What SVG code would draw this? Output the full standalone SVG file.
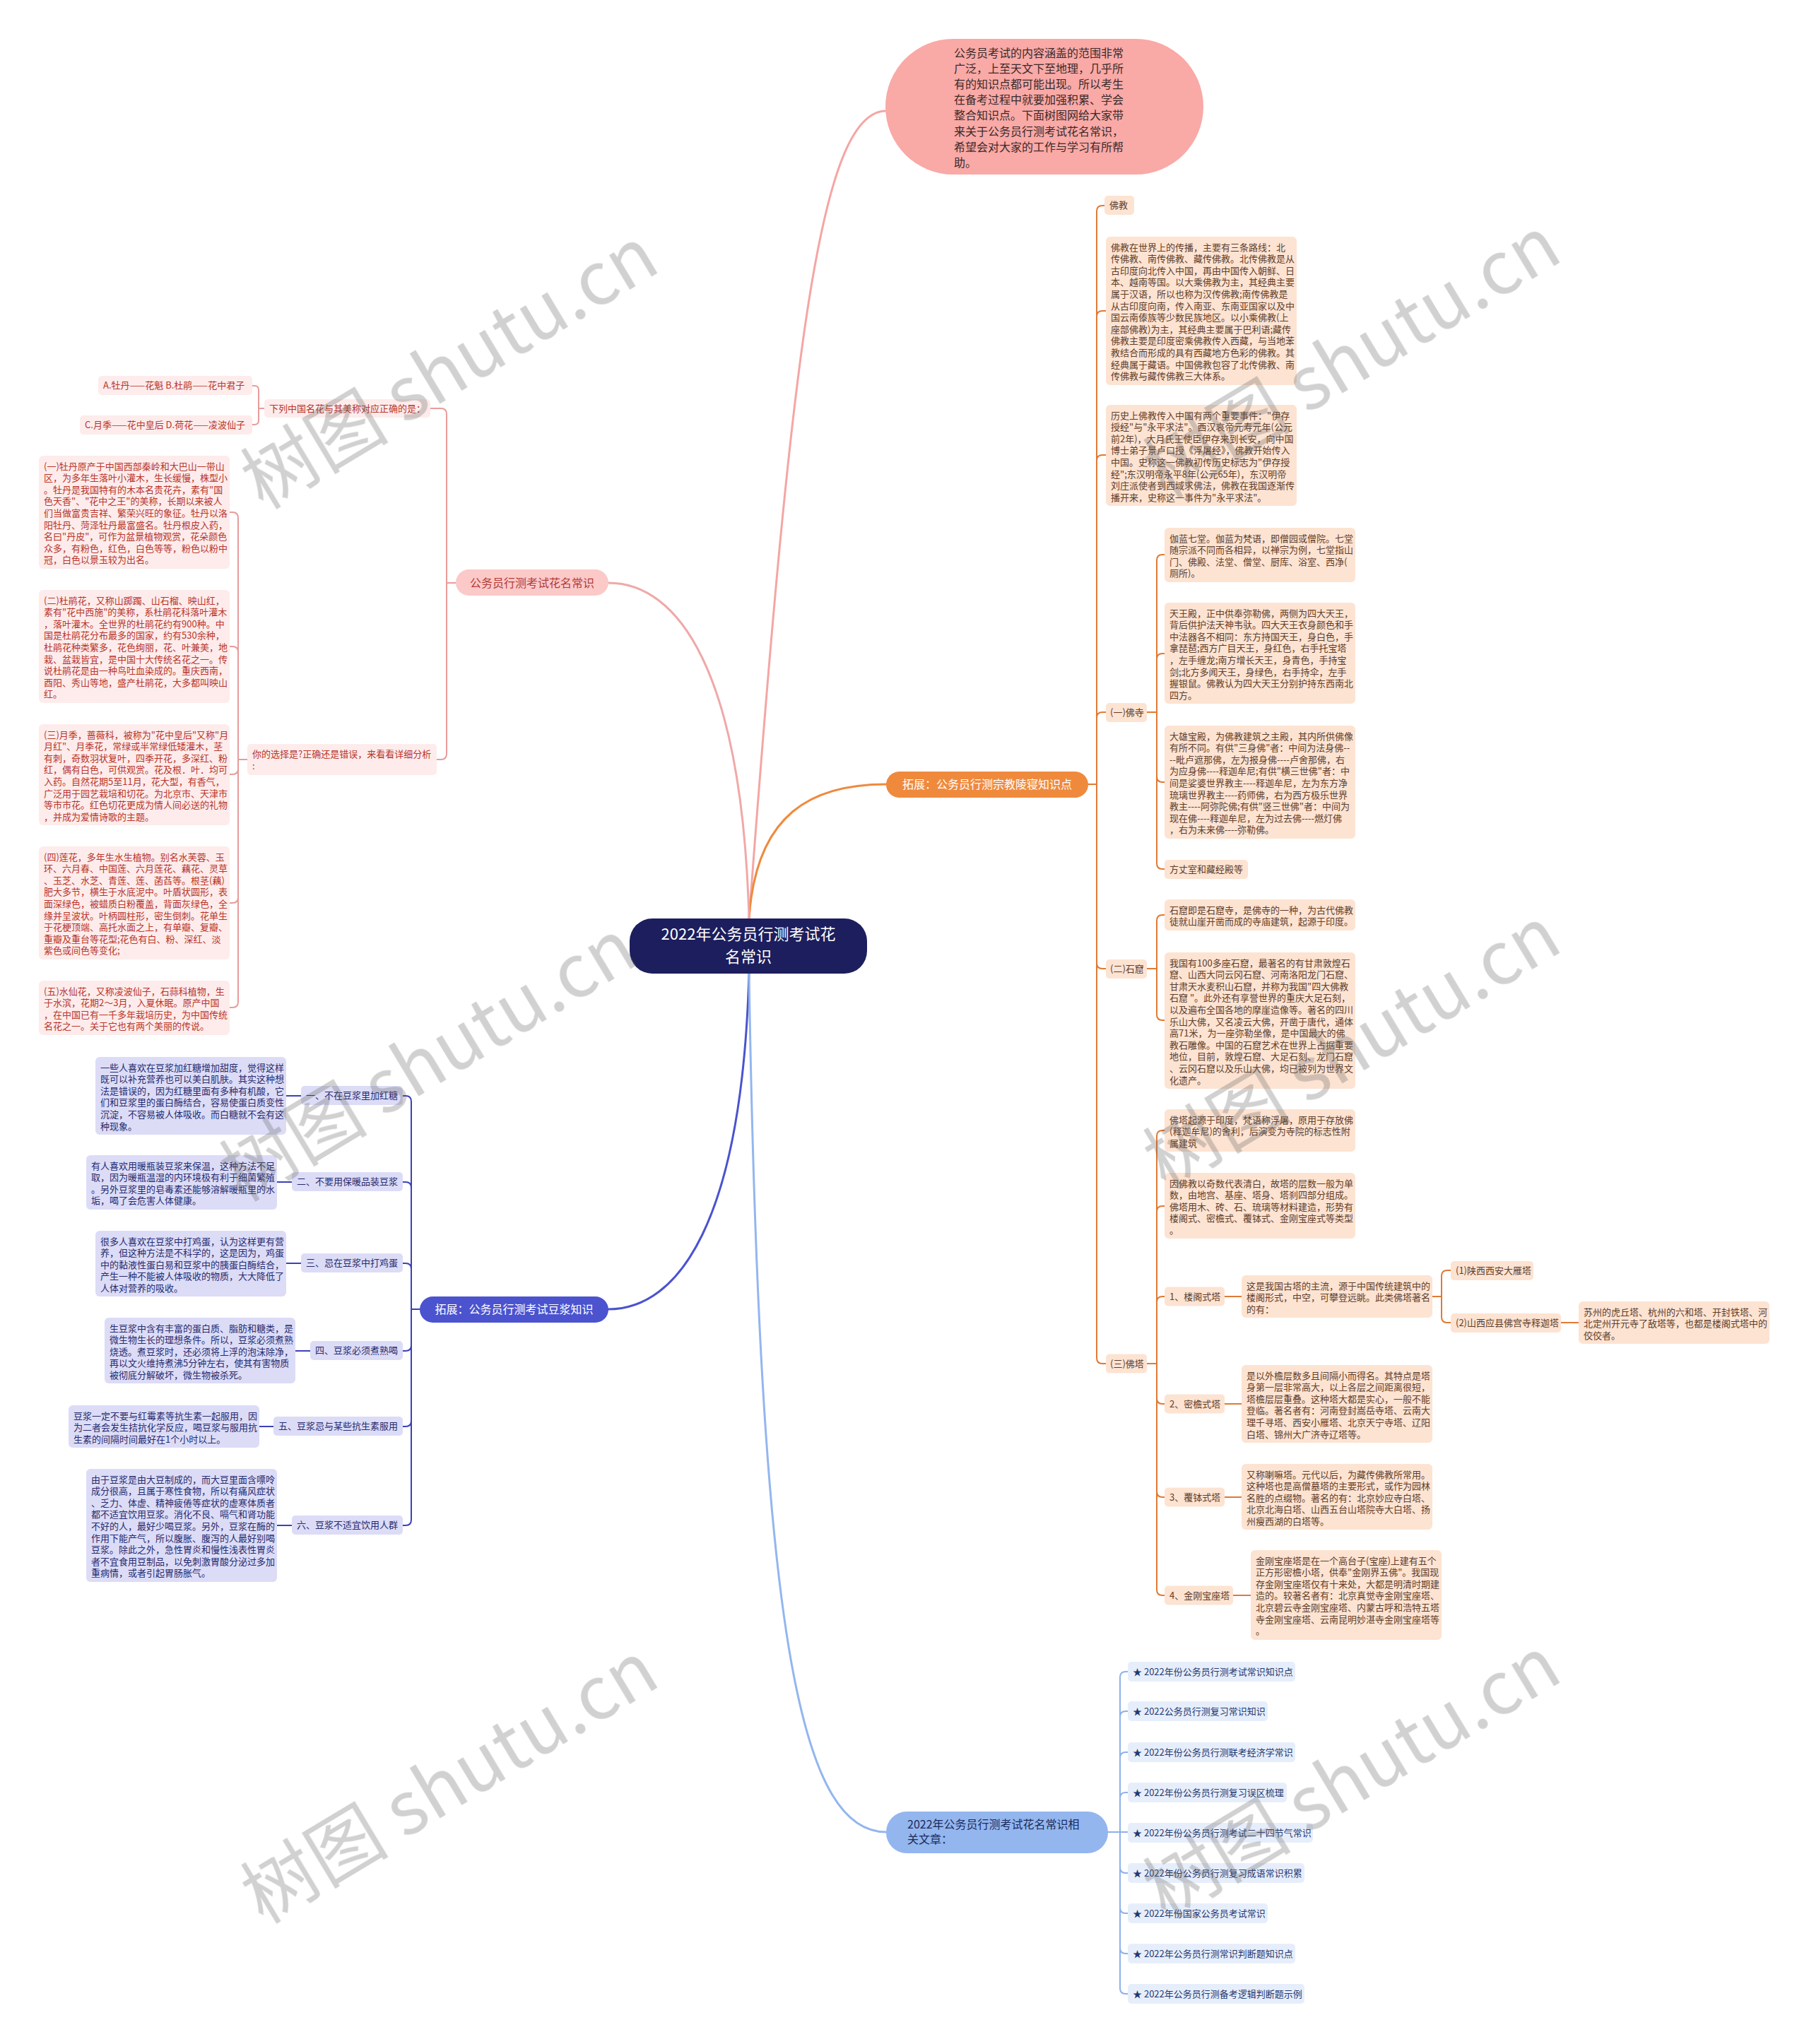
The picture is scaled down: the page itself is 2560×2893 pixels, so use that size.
<svg xmlns="http://www.w3.org/2000/svg" width="2560" height="2893" viewBox="0 0 2560 2893">
<style>
text{font-family:"Noto Sans CJK SC","Noto Sans",sans-serif;}
.s{font-size:13px}
.pk rect{fill:#fdeceb}.pk text{fill:#b8352c}
.or rect{fill:#fde3d2}.or text{fill:#5e3d2a}
.bl rect{fill:#dcdcf7}.bl text{fill:#262b6e}
.lb rect{fill:#e7eefb}.lb text{fill:#1f3a72}
.c path{fill:none;stroke-linecap:round;stroke-linejoin:round}
.cp{stroke:#e89c9b;stroke-width:2}
.co{stroke:#e07a35;stroke-width:2}
.cb{stroke:#3c41b8;stroke-width:2}
.cl{stroke:#8db1ea;stroke-width:2}
.wm{font-size:105px;fill:#666;opacity:.3}
</style>
<rect width="2560" height="2893" fill="#fff"/>
<g id="connectors" class="c">
<path d="M1060 1300 C1120 500 1160 157 1254 157" stroke="#f4a6a4" stroke-width="3"/>
<path d="M1060 1300 C1070 1150 1150 1110 1254 1110" stroke="#ee8a3f" stroke-width="3"/>
<path d="M1060 1300 C1050 950 960 825 861 825" stroke="#efa9a8" stroke-width="3"/>
<path d="M1060 1378 C1050 1730 960 1853 861 1853" stroke="#4b53cf" stroke-width="3"/>
<path d="M1060 1378 C1075 2300 1130 2593 1254 2593" stroke="#93b6ef" stroke-width="3"/>
<path class="cp" d="M645 825 H632 V586 Q632 578 624 578 H609"/>
<path class="cp" d="M645 825 H632 V1067 Q632 1075 624 1075 H618"/>
<path class="cp" d="M374 578 H366 V552 Q366 546 360 546 H357"/>
<path class="cp" d="M374 578 H366 V595 Q366 601 360 601 H357"/>
<path class="cp" d="M350 1075 H337 V733 Q337 725 329 725 H325"/>
<path class="cp" d="M350 1075 H337 V923 Q337 915 329 915 H325"/>
<path class="cp" d="M350 1075 H337 V1088 Q337 1096 329 1096 H325"/>
<path class="cp" d="M350 1075 H337 V1270 Q337 1278 329 1278 H325"/>
<path class="cp" d="M350 1075 H337 V1418 Q337 1426 329 1426 H325"/>
<path class="co" d="M1540 1110 H1552 V299 Q1552 291 1560 291 H1563"/>
<path class="co" d="M1540 1110 H1552 V448 Q1552 440 1560 440 H1565"/>
<path class="co" d="M1540 1110 H1552 V652 Q1552 644 1560 644 H1565"/>
<path class="co" d="M1540 1110 H1552 V1016 Q1552 1008 1560 1008 H1565"/>
<path class="co" d="M1540 1110 H1552 V1363 Q1552 1371 1560 1371 H1565"/>
<path class="co" d="M1540 1110 H1552 V1922 Q1552 1930 1560 1930 H1565"/>
<path class="co" d="M1623 1008 H1637 V793 Q1637 785 1645 785 H1648"/>
<path class="co" d="M1623 1008 H1637 V933 Q1637 925 1645 925 H1648"/>
<path class="co" d="M1623 1008 H1637 V1099 Q1637 1107 1645 1107 H1648"/>
<path class="co" d="M1623 1008 H1637 V1222 Q1637 1230 1645 1230 H1648"/>
<path class="co" d="M1623 1371 H1637 V1303 Q1637 1295 1645 1295 H1648"/>
<path class="co" d="M1623 1371 H1637 V1436 Q1637 1444 1645 1444 H1648"/>
<path class="co" d="M1623 1930 H1637 V1608 Q1637 1600 1645 1600 H1648"/>
<path class="co" d="M1623 1930 H1637 V1715 Q1637 1707 1645 1707 H1648"/>
<path class="co" d="M1623 1930 H1637 V1843 Q1637 1835 1645 1835 H1648"/>
<path class="co" d="M1623 1930 H1637 V1979 Q1637 1987 1645 1987 H1648"/>
<path class="co" d="M1623 1930 H1637 V2111 Q1637 2119 1645 2119 H1648"/>
<path class="co" d="M1623 1930 H1637 V2250 Q1637 2258 1645 2258 H1648"/>
<path class="co" d="M1733 1835 H1757"/>
<path class="co" d="M2027 1835 H2040 V1806 Q2040 1798 2048 1798 H2053"/>
<path class="co" d="M2027 1835 H2040 V1864 Q2040 1872 2048 1872 H2053"/>
<path class="co" d="M2209 1872 H2234"/>
<path class="co" d="M1733 1987 H1757"/>
<path class="co" d="M1733 2119 H1757"/>
<path class="co" d="M1745 2258 H1770"/>
<path class="cb" d="M594 1853 H582 V1559 Q582 1551 574 1551 H570"/>
<path class="cb" d="M594 1853 H582 V1681 Q582 1673 574 1673 H570"/>
<path class="cb" d="M594 1853 H582 V1796 Q582 1788 574 1788 H570"/>
<path class="cb" d="M594 1853 H582 V1904 Q582 1912 574 1912 H570"/>
<path class="cb" d="M594 1853 H582 V2011 Q582 2019 574 2019 H570"/>
<path class="cb" d="M594 1853 H582 V2151 Q582 2159 574 2159 H570"/>
<path class="cb" d="M426 1551 H405"/>
<path class="cb" d="M413 1673 H392"/>
<path class="cb" d="M426 1788 H405"/>
<path class="cb" d="M439 1912 H418"/>
<path class="cb" d="M387 2019 H366"/>
<path class="cb" d="M413 2159 H392"/>
<path class="cl" d="M1568 2593 H1585 V2374 Q1585 2366 1593 2366 H1596"/>
<path class="cl" d="M1568 2593 H1585 V2430 Q1585 2422 1593 2422 H1596"/>
<path class="cl" d="M1568 2593 H1585 V2488 Q1585 2480 1593 2480 H1596"/>
<path class="cl" d="M1568 2593 H1585 V2545 Q1585 2537 1593 2537 H1596"/>
<path class="cl" d="M1568 2593 H1596"/>
<path class="cl" d="M1568 2593 H1585 V2643 Q1585 2651 1593 2651 H1596"/>
<path class="cl" d="M1568 2593 H1585 V2700 Q1585 2708 1593 2708 H1596"/>
<path class="cl" d="M1568 2593 H1585 V2757 Q1585 2765 1593 2765 H1596"/>
<path class="cl" d="M1568 2593 H1585 V2814 Q1585 2822 1593 2822 H1596"/>
</g>

<g id="center">
<rect x="891" y="1300" width="336" height="78" rx="32" fill="#1c1e5d"/>
<text x="1059" y="1330" font-size="22" fill="#fff" text-anchor="middle">2022年公务员行测考试花</text>
<text x="1059" y="1362" font-size="22" fill="#fff" text-anchor="middle">名常识</text>
</g>

<g id="intro">
<rect x="1253" y="55" width="450" height="192" rx="96" fill="#f9a9a6"/>
<text x="1350" y="81" font-size="16" fill="#3a2a2a"><tspan x="1350">公务员考试的内容涵盖的范围非常</tspan><tspan x="1350" dy="22.1">广泛，上至天文下至地理，几乎所</tspan><tspan x="1350" dy="22.1">有的知识点都可能出现。所以考生</tspan><tspan x="1350" dy="22.1">在备考过程中就要加强积累、学会</tspan><tspan x="1350" dy="22.1">整合知识点。下面树图网给大家带</tspan><tspan x="1350" dy="22.1">来关于公务员行测考试花名常识，</tspan><tspan x="1350" dy="22.1">希望会对大家的工作与学习有所帮</tspan><tspan x="1350" dy="22.1">助。</tspan></text>
</g>

<g id="branch-flower">
<rect x="645" y="806" width="216" height="37" rx="18.5" fill="#fbc9c8"/>
<text x="753" y="830.5" font-size="16" fill="#b23a38" text-anchor="middle">公务员行测考试花名常识</text>
</g>
<g id="branch-religion">
<rect x="1254" y="1092" width="286" height="37" rx="18.5" fill="#ef8a3d"/>
<text x="1397" y="1116" font-size="16" fill="#fff" text-anchor="middle">拓展：公务员行测宗教陵寝知识点</text>
</g>
<g id="branch-soy">
<rect x="594" y="1835" width="267" height="37" rx="18.5" fill="#4b53cf"/>
<text x="727.5" y="1859" font-size="16" fill="#fff" text-anchor="middle">拓展：公务员行测考试豆浆知识</text>
</g>
<g id="branch-related">
<rect x="1254" y="2564" width="314" height="59" rx="29" fill="#93b6ef"/>
<text x="1284" y="2588" font-size="16" fill="#1c2b5a"><tspan x="1284">2022年公务员行测考试花名常识相</tspan><tspan x="1284" dy="21">关文章：</tspan></text>
</g>

<g class="pk s">
<g id="q"><rect x="374" y="565" width="235" height="26" rx="5"/><text x="381" y="583">下列中国名花与其美称对应正确的是：</text></g>
<g id="qa"><rect x="139" y="532" width="218" height="27" rx="5"/><text x="146" y="550">A.牡丹——花魁 B.杜鹃——花中君子</text></g>
<g id="qc"><rect x="113" y="588" width="244" height="27" rx="5"/><text x="120" y="606">C.月季——花中皇后 D.荷花——凌波仙子</text></g>
<g id="ans"><rect x="350" y="1053" width="268" height="44" rx="5"/><text x="357" y="1072"><tspan x="357">你的选择是?正确还是错误，来看看详细分析</tspan><tspan x="357" dy="16.6">:</tspan></text></g>
<g id="p1"><rect x="55" y="645" width="270" height="160" rx="6"/><text x="62" y="664.5"><tspan x="62">(一)牡丹原产于中国西部秦岭和大巴山一带山</tspan><tspan x="62" dy="16.6">区，为多年生落叶小灌木，生长缓慢，株型小</tspan><tspan x="62" dy="16.6">。牡丹是我国特有的木本名贵花卉，素有"国</tspan><tspan x="62" dy="16.6">色天香"、"花中之王"的美称，长期以来被人</tspan><tspan x="62" dy="16.6">们当做富贵吉祥、繁荣兴旺的象征。牡丹以洛</tspan><tspan x="62" dy="16.6">阳牡丹、菏泽牡丹最富盛名。牡丹根皮入药，</tspan><tspan x="62" dy="16.6">名曰"丹皮"，可作为盆景植物观赏，花朵颜色</tspan><tspan x="62" dy="16.6">众多，有粉色，红色，白色等等，粉色以粉中</tspan><tspan x="62" dy="16.6">冠，白色以景玉较为出名。</tspan></text></g>
<g id="p2"><rect x="55" y="835" width="270" height="160" rx="6"/><text x="62" y="854.5"><tspan x="62">(二)杜鹃花，又称山踯躅、山石榴、映山红，</tspan><tspan x="62" dy="16.6">素有"花中西施"的美称，系杜鹃花科落叶灌木</tspan><tspan x="62" dy="16.6">，落叶灌木。全世界的杜鹃花约有900种。中</tspan><tspan x="62" dy="16.6">国是杜鹃花分布最多的国家，约有530余种，</tspan><tspan x="62" dy="16.6">杜鹃花种类繁多，花色绚丽，花、叶兼美，地</tspan><tspan x="62" dy="16.6">栽、盆栽皆宜，是中国十大传统名花之一。传</tspan><tspan x="62" dy="16.6">说杜鹃花是由一种鸟吐血染成的。重庆西南，</tspan><tspan x="62" dy="16.6">酉阳、秀山等地，盛产杜鹃花，大多都叫映山</tspan><tspan x="62" dy="16.6">红。</tspan></text></g>
<g id="p3"><rect x="55" y="1025" width="270" height="143" rx="6"/><text x="62" y="1044.5"><tspan x="62">(三)月季，蔷薇科，被称为"花中皇后"又称"月</tspan><tspan x="62" dy="16.6">月红"、月季花，常绿或半常绿低矮灌木，茎</tspan><tspan x="62" dy="16.6">有刺，奇数羽状复叶，四季开花，多深红、粉</tspan><tspan x="62" dy="16.6">红，偶有白色，可供观赏。花及根．叶．均可</tspan><tspan x="62" dy="16.6">入药。自然花期5至11月，花大型，有香气，</tspan><tspan x="62" dy="16.6">广泛用于园艺栽培和切花。为北京市、天津市</tspan><tspan x="62" dy="16.6">等市市花。红色切花更成为情人间必送的礼物</tspan><tspan x="62" dy="16.6">，并成为爱情诗歌的主题。</tspan></text></g>
<g id="p4"><rect x="55" y="1198" width="270" height="160" rx="6"/><text x="62" y="1217.5"><tspan x="62">(四)莲花，多年生水生植物。别名水芙蓉、玉</tspan><tspan x="62" dy="16.6">环、六月春、中国莲、六月莲花、藕花、灵草</tspan><tspan x="62" dy="16.6">、玉芝、水芝、青莲、莲、菡萏等。根茎(藕)</tspan><tspan x="62" dy="16.6">肥大多节，横生于水底泥中。叶盾状圆形，表</tspan><tspan x="62" dy="16.6">面深绿色，被蜡质白粉覆盖，背面灰绿色，全</tspan><tspan x="62" dy="16.6">缘并呈波状。叶柄圆柱形，密生倒刺。花单生</tspan><tspan x="62" dy="16.6">于花梗顶端、高托水面之上，有单瓣、复瓣、</tspan><tspan x="62" dy="16.6">重瓣及重台等花型;花色有白、粉、深红、淡</tspan><tspan x="62" dy="16.6">紫色或间色等变化;</tspan></text></g>
<g id="p5"><rect x="55" y="1388" width="270" height="77" rx="6"/><text x="62" y="1407.5"><tspan x="62">(五)水仙花，又称凌波仙子，石蒜科植物，生</tspan><tspan x="62" dy="16.6">于水滨，花期2～3月，入夏休眠。原产中国</tspan><tspan x="62" dy="16.6">，在中国已有一千多年栽培历史，为中国传统</tspan><tspan x="62" dy="16.6">名花之一。关于它也有两个美丽的传说。</tspan></text></g>
</g>

<g class="or s">
<g id="fj"><rect x="1563" y="277" width="42" height="27" rx="5"/><text x="1570" y="295">佛教</text></g>
<g id="o1"><rect x="1565" y="335" width="270" height="210" rx="6"/><text x="1572" y="354.5"><tspan x="1572">佛教在世界上的传播，主要有三条路线：北</tspan><tspan x="1572" dy="16.6">传佛教、南传佛教、藏传佛教。北传佛教是从</tspan><tspan x="1572" dy="16.6">古印度向北传入中国，再由中国传入朝鲜、日</tspan><tspan x="1572" dy="16.6">本、越南等国。以大乘佛教为主，其经典主要</tspan><tspan x="1572" dy="16.6">属于汉语，所以也称为汉传佛教;南传佛教是</tspan><tspan x="1572" dy="16.6">从古印度向南，传入南亚、东南亚国家以及中</tspan><tspan x="1572" dy="16.6">国云南傣族等少数民族地区。以小乘佛教(上</tspan><tspan x="1572" dy="16.6">座部佛教)为主，其经典主要属于巴利语;藏传</tspan><tspan x="1572" dy="16.6">佛教主要是印度密乘佛教传入西藏，与当地苯</tspan><tspan x="1572" dy="16.6">教结合而形成的具有西藏地方色彩的佛教。其</tspan><tspan x="1572" dy="16.6">经典属于藏语。中国佛教包容了北传佛教、南</tspan><tspan x="1572" dy="16.6">传佛教与藏传佛教三大体系。</tspan></text></g>
<g id="o2"><rect x="1565" y="573" width="270" height="143" rx="6"/><text x="1572" y="592.5"><tspan x="1572">历史上佛教传入中国有两个重要事件："伊存</tspan><tspan x="1572" dy="16.6">授经"与"永平求法"。西汉哀帝元寿元年(公元</tspan><tspan x="1572" dy="16.6">前2年)，大月氏王使臣伊存来到长安，向中国</tspan><tspan x="1572" dy="16.6">博士弟子景卢口授《浮屠经》，佛教开始传入</tspan><tspan x="1572" dy="16.6">中国。史称这一佛教初传历史标志为"伊存授</tspan><tspan x="1572" dy="16.6">经";东汉明帝永平8年(公元65年)，东汉明帝</tspan><tspan x="1572" dy="16.6">刘庄派使者到西域求佛法，佛教在我国逐渐传</tspan><tspan x="1572" dy="16.6">播开来，史称这一事件为"永平求法"。</tspan></text></g>
<g id="fs"><rect x="1565" y="995" width="58" height="27" rx="5"/><text x="1571" y="1013">(一)佛寺</text></g>
<g id="fa"><rect x="1648" y="747" width="270" height="77" rx="6"/><text x="1655" y="766.5"><tspan x="1655">伽蓝七堂。伽蓝为梵语，即僧园或僧院。七堂</tspan><tspan x="1655" dy="16.6">随宗派不同而各相异，以禅宗为例，七堂指山</tspan><tspan x="1655" dy="16.6">门、佛殿、法堂、僧堂、厨库、浴室、西净(</tspan><tspan x="1655" dy="16.6">厕所)。</tspan></text></g>
<g id="fb"><rect x="1648" y="853" width="270" height="143" rx="6"/><text x="1655" y="872.5"><tspan x="1655">天王殿，正中供奉弥勒佛，两侧为四大天王，</tspan><tspan x="1655" dy="16.6">背后供护法天神韦驮。四大天王衣身颜色和手</tspan><tspan x="1655" dy="16.6">中法器各不相同：东方持国天王，身白色，手</tspan><tspan x="1655" dy="16.6">拿琵琶;西方广目天王，身红色，右手托宝塔</tspan><tspan x="1655" dy="16.6">，左手缠龙;南方增长天王，身青色，手持宝</tspan><tspan x="1655" dy="16.6">剑;北方多闻天王，身绿色，右手持伞，左手</tspan><tspan x="1655" dy="16.6">握银鼠。佛教认为四大天王分别护持东西南北</tspan><tspan x="1655" dy="16.6">四方。</tspan></text></g>
<g id="fc"><rect x="1648" y="1027" width="270" height="160" rx="6"/><text x="1655" y="1046.5"><tspan x="1655">大雄宝殿，为佛教建筑之主殿，其内所供佛像</tspan><tspan x="1655" dy="16.6">有所不同。有供"三身佛"者：中间为法身佛--</tspan><tspan x="1655" dy="16.6">--毗卢遮那佛，左为报身佛----卢舍那佛，右</tspan><tspan x="1655" dy="16.6">为应身佛----释迦牟尼;有供"横三世佛"者：中</tspan><tspan x="1655" dy="16.6">间是娑婆世界教主----释迦牟尼，左为东方净</tspan><tspan x="1655" dy="16.6">琉璃世界教主----药师佛，右为西方极乐世界</tspan><tspan x="1655" dy="16.6">教主----阿弥陀佛;有供"竖三世佛"者：中间为</tspan><tspan x="1655" dy="16.6">现在佛----释迦牟尼，左为过去佛----燃灯佛</tspan><tspan x="1655" dy="16.6">，右为未来佛----弥勒佛。</tspan></text></g>
<g id="fd"><rect x="1648" y="1217" width="118" height="27" rx="5"/><text x="1655" y="1235">方丈室和藏经殿等</text></g>
<g id="sk"><rect x="1565" y="1358" width="58" height="27" rx="5"/><text x="1571" y="1376">(二)石窟</text></g>
<g id="sa"><rect x="1648" y="1273" width="270" height="44" rx="6"/><text x="1655" y="1292.5"><tspan x="1655">石窟即是石窟寺，是佛寺的一种，为古代佛教</tspan><tspan x="1655" dy="16.6">徒就山崖开凿而成的寺庙建筑，起源于印度。</tspan></text></g>
<g id="sb"><rect x="1648" y="1348" width="270" height="193" rx="6"/><text x="1655" y="1367.5"><tspan x="1655">我国有100多座石窟，最著名的有甘肃敦煌石</tspan><tspan x="1655" dy="16.6">窟、山西大同云冈石窟、河南洛阳龙门石窟、</tspan><tspan x="1655" dy="16.6">甘肃天水麦积山石窟，并称为我国"四大佛教</tspan><tspan x="1655" dy="16.6">石窟 "。此外还有享誉世界的重庆大足石刻，</tspan><tspan x="1655" dy="16.6">以及遍布全国各地的摩崖造像等。著名的四川</tspan><tspan x="1655" dy="16.6">乐山大佛，又名凌云大佛，开凿于唐代，通体</tspan><tspan x="1655" dy="16.6">高71米，为一座弥勒坐像，是中国最大的佛</tspan><tspan x="1655" dy="16.6">教石雕像。中国的石窟艺术在世界上占据重要</tspan><tspan x="1655" dy="16.6">地位，目前，敦煌石窟、大足石刻、龙门石窟</tspan><tspan x="1655" dy="16.6">、云冈石窟以及乐山大佛，均已被列为世界文</tspan><tspan x="1655" dy="16.6">化遗产。</tspan></text></g>
<g id="ft"><rect x="1565" y="1916.5" width="58" height="27" rx="5"/><text x="1571" y="1934.5">(三)佛塔</text></g>
<g id="ta"><rect x="1648" y="1570" width="270" height="60" rx="6"/><text x="1655" y="1589.5"><tspan x="1655">佛塔起源于印度，梵语称浮屠，原用于存放佛</tspan><tspan x="1655" dy="16.6">(释迦牟尼)的舍利，后演变为寺院的标志性附</tspan><tspan x="1655" dy="16.6">属建筑</tspan></text></g>
<g id="tb"><rect x="1648" y="1660" width="270" height="93" rx="6"/><text x="1655" y="1679.5"><tspan x="1655">因佛教以奇数代表清白，故塔的层数一般为单</tspan><tspan x="1655" dy="16.6">数，由地宫、基座、塔身、塔刹四部分组成。</tspan><tspan x="1655" dy="16.6">佛塔用木、砖、石、琉璃等材料建造，形势有</tspan><tspan x="1655" dy="16.6">楼阁式、密檐式、覆钵式、金刚宝座式等类型</tspan><tspan x="1655" dy="16.6">。</tspan></text></g>
<g id="t1"><rect x="1648" y="1821.5" width="85" height="27" rx="5"/><text x="1655" y="1839.5">1、楼阁式塔</text></g>
<g id="t2"><rect x="1648" y="1973.5" width="85" height="27" rx="5"/><text x="1655" y="1991.5">2、密檐式塔</text></g>
<g id="t3"><rect x="1648" y="2105.5" width="85" height="27" rx="5"/><text x="1655" y="2123.5">3、覆钵式塔</text></g>
<g id="t4"><rect x="1648" y="2244.5" width="97" height="27" rx="5"/><text x="1655" y="2262.5">4、金刚宝座塔</text></g>
<g id="l1"><rect x="1757" y="1805" width="270" height="60" rx="6"/><text x="1764" y="1824.5"><tspan x="1764">这是我国古塔的主流，源于中国传统建筑中的</tspan><tspan x="1764" dy="16.6">楼阁形式，中空，可攀登远眺。此类佛塔著名</tspan><tspan x="1764" dy="16.6">的有：</tspan></text></g>
<g id="l1a"><rect x="2053" y="1785" width="117" height="27" rx="5"/><text x="2060" y="1803">(1)陕西西安大雁塔</text></g>
<g id="l1b"><rect x="2053" y="1859" width="156" height="27" rx="5"/><text x="2060" y="1877">(2)山西应县佛宫寺释迦塔</text></g>
<g id="l2"><rect x="2234" y="1842" width="270" height="60" rx="6"/><text x="2241" y="1861.5"><tspan x="2241">苏州的虎丘塔、杭州的六和塔、开封铁塔、河</tspan><tspan x="2241" dy="16.6">北定州开元寺了敌塔等，也都是楼阁式塔中的</tspan><tspan x="2241" dy="16.6">佼佼者。</tspan></text></g>
<g id="m"><rect x="1757" y="1932" width="270" height="110" rx="6"/><text x="1764" y="1951.5"><tspan x="1764">是以外檐层数多且间隔小而得名。其特点是塔</tspan><tspan x="1764" dy="16.6">身第一层非常高大，以上各层之间距离很短，</tspan><tspan x="1764" dy="16.6">塔檐层层重叠。这种塔大都是实心，一般不能</tspan><tspan x="1764" dy="16.6">登临。著名者有：河南登封嵩岳寺塔、云南大</tspan><tspan x="1764" dy="16.6">理千寻塔、西安小雁塔、北京天宁寺塔、辽阳</tspan><tspan x="1764" dy="16.6">白塔、锦州大广济寺辽塔等。</tspan></text></g>
<g id="fu"><rect x="1757" y="2072" width="270" height="93" rx="6"/><text x="1764" y="2091.5"><tspan x="1764">又称喇嘛塔。元代以后，为藏传佛教所常用。</tspan><tspan x="1764" dy="16.6">这种塔也是高僧墓塔的主要形式，或作为园林</tspan><tspan x="1764" dy="16.6">名胜的点缀物。著名的有：北京妙应寺白塔、</tspan><tspan x="1764" dy="16.6">北京北海白塔、山西五台山塔院寺大白塔、扬</tspan><tspan x="1764" dy="16.6">州瘦西湖的白塔等。</tspan></text></g>
<g id="jg"><rect x="1770" y="2194" width="270" height="127" rx="6"/><text x="1777" y="2213.5"><tspan x="1777">金刚宝座塔是在一个高台子(宝座)上建有五个</tspan><tspan x="1777" dy="16.6">正方形密檐小塔，供奉"金刚界五佛"。我国现</tspan><tspan x="1777" dy="16.6">存金刚宝座塔仅有十来处，大都是明清时期建</tspan><tspan x="1777" dy="16.6">造的。较著名者有：北京真觉寺金刚宝座塔、</tspan><tspan x="1777" dy="16.6">北京碧云寺金刚宝座塔、内蒙古呼和浩特五塔</tspan><tspan x="1777" dy="16.6">寺金刚宝座塔、云南昆明妙湛寺金刚宝座塔等</tspan><tspan x="1777" dy="16.6">。</tspan></text></g>
</g>

<g class="bl s">
<g id="b1l"><rect x="426" y="1537" width="144" height="27" rx="5"/><text x="433" y="1555">一、不在豆浆里加红糖</text></g>
<g id="b2l"><rect x="413" y="1659" width="157" height="27" rx="5"/><text x="420" y="1677">二、不要用保暖品装豆浆</text></g>
<g id="b3l"><rect x="426" y="1774" width="144" height="27" rx="5"/><text x="433" y="1792">三、忌在豆浆中打鸡蛋</text></g>
<g id="b4l"><rect x="439" y="1898" width="131" height="27" rx="5"/><text x="446" y="1916">四、豆浆必须煮熟喝</text></g>
<g id="b5l"><rect x="387" y="2005" width="183" height="27" rx="5"/><text x="394" y="2023">五、豆浆忌与某些抗生素服用</text></g>
<g id="b6l"><rect x="413" y="2145" width="157" height="27" rx="5"/><text x="420" y="2163">六、豆浆不适宜饮用人群</text></g>
<g id="b1"><rect x="135" y="1496" width="270" height="110" rx="6"/><text x="142" y="1515.5"><tspan x="142">一些人喜欢在豆浆加红糖增加甜度，觉得这样</tspan><tspan x="142" dy="16.6">既可以补充营养也可以美白肌肤。其实这种想</tspan><tspan x="142" dy="16.6">法是错误的，因为红糖里面有多种有机酸，它</tspan><tspan x="142" dy="16.6">们和豆浆里的蛋白酶结合，容易使蛋白质变性</tspan><tspan x="142" dy="16.6">沉淀，不容易被人体吸收。而白糖就不会有这</tspan><tspan x="142" dy="16.6">种现象。</tspan></text></g>
<g id="b2"><rect x="122" y="1635" width="270" height="77" rx="6"/><text x="129" y="1654.5"><tspan x="129">有人喜欢用暖瓶装豆浆来保温，这种方法不足</tspan><tspan x="129" dy="16.6">取，因为暖瓶温湿的内环境极有利于细菌繁殖</tspan><tspan x="129" dy="16.6">。另外豆浆里的皂毒素还能够溶解暖瓶里的水</tspan><tspan x="129" dy="16.6">垢，喝了会危害人体健康。</tspan></text></g>
<g id="b3"><rect x="135" y="1742" width="270" height="93" rx="6"/><text x="142" y="1761.5"><tspan x="142">很多人喜欢在豆浆中打鸡蛋，认为这样更有营</tspan><tspan x="142" dy="16.6">养，但这种方法是不科学的，这是因为，鸡蛋</tspan><tspan x="142" dy="16.6">中的黏液性蛋白易和豆浆中的胰蛋白酶结合，</tspan><tspan x="142" dy="16.6">产生一种不能被人体吸收的物质，大大降低了</tspan><tspan x="142" dy="16.6">人体对营养的吸收。</tspan></text></g>
<g id="b4"><rect x="148" y="1865" width="270" height="93" rx="6"/><text x="155" y="1884.5"><tspan x="155">生豆浆中含有丰富的蛋白质、脂肪和糖类，是</tspan><tspan x="155" dy="16.6">微生物生长的理想条件。所以，豆浆必须煮熟</tspan><tspan x="155" dy="16.6">烧透。煮豆浆时，还必须将上浮的泡沫除净，</tspan><tspan x="155" dy="16.6">再以文火维持煮沸5分钟左右，使其有害物质</tspan><tspan x="155" dy="16.6">被彻底分解破坏，微生物被杀死。</tspan></text></g>
<g id="b5"><rect x="97" y="1989" width="270" height="60" rx="6"/><text x="104" y="2008.5"><tspan x="104">豆浆一定不要与红霉素等抗生素一起服用，因</tspan><tspan x="104" dy="16.6">为二者会发生拮抗化学反应，喝豆浆与服用抗</tspan><tspan x="104" dy="16.6">生素的间隔时间最好在1个小时以上。</tspan></text></g>
<g id="b6"><rect x="122" y="2079" width="270" height="160" rx="6"/><text x="129" y="2098.5"><tspan x="129">由于豆浆是由大豆制成的，而大豆里面含嘌呤</tspan><tspan x="129" dy="16.6">成分很高，且属于寒性食物，所以有痛风症状</tspan><tspan x="129" dy="16.6">、乏力、体虚、精神疲倦等症状的虚寒体质者</tspan><tspan x="129" dy="16.6">都不适宜饮用豆浆。消化不良、嗝气和肾功能</tspan><tspan x="129" dy="16.6">不好的人，最好少喝豆浆。另外，豆浆在酶的</tspan><tspan x="129" dy="16.6">作用下能产气，所以腹胀、腹泻的人最好别喝</tspan><tspan x="129" dy="16.6">豆浆。除此之外，急性胃炎和慢性浅表性胃炎</tspan><tspan x="129" dy="16.6">者不宜食用豆制品，以免刺激胃酸分泌过多加</tspan><tspan x="129" dy="16.6">重病情，或者引起胃肠胀气。</tspan></text></g>
</g>

<g class="lb s">
<g id="r1"><rect x="1596" y="2352" width="237" height="28" rx="5"/><text x="1603" y="2371">★ 2022年份公务员行测考试常识知识点</text></g>
<g id="r2"><rect x="1596" y="2408" width="198" height="28" rx="5"/><text x="1603" y="2427">★ 2022公务员行测复习常识知识</text></g>
<g id="r3"><rect x="1596" y="2466" width="237" height="28" rx="5"/><text x="1603" y="2485">★ 2022年份公务员行测联考经济学常识</text></g>
<g id="r4"><rect x="1596" y="2523" width="225" height="28" rx="5"/><text x="1603" y="2542">★ 2022年份公务员行测复习误区梳理</text></g>
<g id="r5"><rect x="1596" y="2580" width="262" height="28" rx="5"/><text x="1603" y="2599">★ 2022年份公务员行测考试二十四节气常识</text></g>
<g id="r6"><rect x="1596" y="2637" width="250" height="28" rx="5"/><text x="1603" y="2656">★ 2022年份公务员行测复习成语常识积累</text></g>
<g id="r7"><rect x="1596" y="2694" width="198" height="28" rx="5"/><text x="1603" y="2713">★ 2022年份国家公务员考试常识</text></g>
<g id="r8"><rect x="1596" y="2751" width="237" height="28" rx="5"/><text x="1603" y="2770">★ 2022年公务员行测常识判断题知识点</text></g>
<g id="r9"><rect x="1596" y="2808" width="250" height="28" rx="5"/><text x="1603" y="2827">★ 2022年公务员行测备考逻辑判断题示例</text></g>
</g>

<g id="watermarks" class="wm" text-anchor="middle">
<text transform="translate(655 552) rotate(-31)">树图 shutu.cn</text>
<text transform="translate(1932 537) rotate(-31)">树图 shutu.cn</text>
<text transform="translate(625 1532) rotate(-31)">树图 shutu.cn</text>
<text transform="translate(1932 1514) rotate(-31)">树图 shutu.cn</text>
<text transform="translate(655 2554) rotate(-31)">树图 shutu.cn</text>
<text transform="translate(1932 2547) rotate(-31)">树图 shutu.cn</text>
</g>
</svg>
